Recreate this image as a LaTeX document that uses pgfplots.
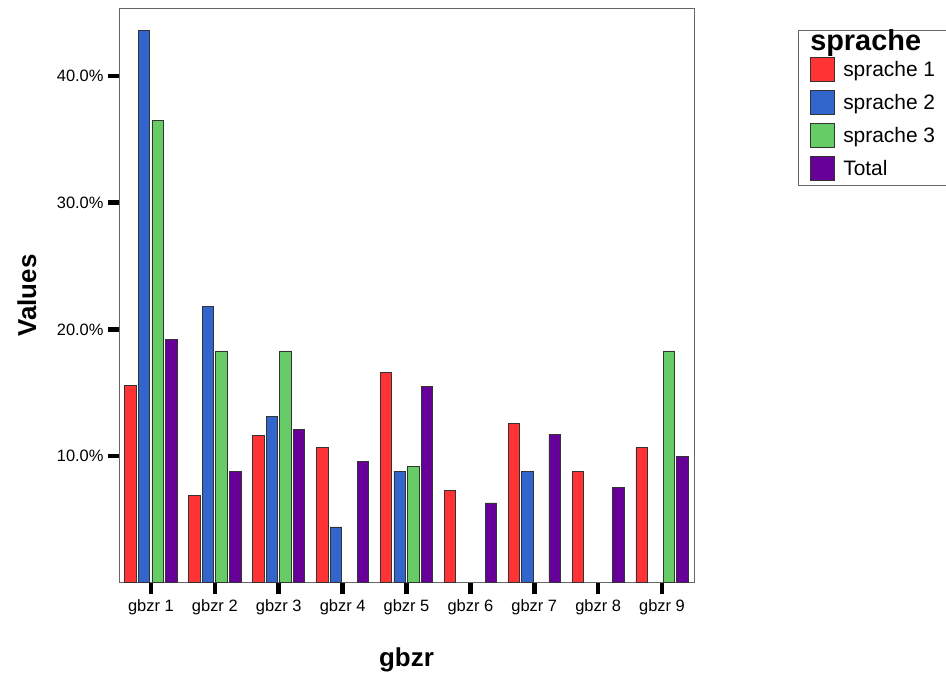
\documentclass[border=0pt]{standalone}
\usepackage{pgfplots}
\pgfplotsset{compat=1.18}
\usepackage{fontspec}
\setmainfont{Liberation Sans}
\definecolor{c1}{HTML}{FF3333}
\definecolor{c2}{HTML}{3366CC}
\definecolor{c3}{HTML}{66CC66}
\definecolor{c4}{HTML}{660099}
\pgfplotsset{
  sq/.style={legend image code/.code={\draw[##1, draw=black!80, line width=0.8bp] (0bp,-12bp) rectangle (24bp,12bp);}},
}
\begin{document}
\begin{tikzpicture}
\useasboundingbox (0,0) rectangle (946bp,676bp);
\begin{axis}[
  at={(119bp,93.3bp)}, anchor=south west,
  scale only axis, width=575bp, height=574.4bp,
  xmin=-0.5, xmax=8.5, ymin=0, ymax=45.35,
  axis line style={draw=black!60, line width=0.8bp},
  ybar, bar width=11.5bp,
  xtick={0,...,8},
  xticklabels={gbzr 1,gbzr 2,gbzr 3,gbzr 4,gbzr 5,gbzr 6,gbzr 7,gbzr 8,gbzr 9},
  ytick={10,20,30,40},
  yticklabels={10.0\%,20.0\%,30.0\%,40.0\%},
  tick align=outside, xtick pos=bottom, ytick pos=left,
  major tick length=11bp,
  major tick style={line width=4.5bp, black},
  ticklabel style={font=\fontsize{16.5}{18}\selectfont},
  xticklabel style={yshift=-2bp},
  yticklabel style={xshift=-1bp},
  xlabel={\bfseries gbzr},
  ylabel={\bfseries Values},
  label style={font=\fontsize{26}{28}\selectfont},
  xlabel style={at={(axis description cs:0.5,-0.1465)}, anchor=base},
  ylabel style={at={(axis description cs:-0.1443,0.5)}, anchor=base},
  legend style={at={(1.181,0.962)}, anchor=north west,
    draw=black!60, line width=0.8bp,
    font=\fontsize{21}{24}\selectfont,
    row sep=8.2bp, column sep=7bp,
    inner xsep=12bp, inner ysep=3.8bp,
    nodes={inner sep=1bp}},
  legend cell align=left,
]
\addlegendimage{empty legend}
\addlegendentry{\hspace*{-33bp}\raisebox{-3.8bp}[11.4bp][0pt]{\fontsize{29}{30}\selectfont\bfseries sprache}}
\addplot[fill=c1, draw=black!80, line width=0.8bp, bar shift=-20.4bp, sq] coordinates {
 (0,15.6) (1,6.9) (2,11.6) (3,10.7) (4,16.6) (5,7.3) (6,12.6) (7,8.8) (8,10.7)};
\addlegendentry{sprache 1}
\addplot[fill=c2, draw=black!80, line width=0.8bp, bar shift=-6.8bp, sq] coordinates {
 (0,43.6) (1,21.8) (2,13.1) (3,4.4) (4,8.8) (6,8.8)};
\addlegendentry{sprache 2}
\addplot[fill=c3, draw=black!80, line width=0.8bp, bar shift=6.8bp, sq] coordinates {
 (0,36.5) (1,18.3) (2,18.3) (4,9.2) (8,18.3)};
\addlegendentry{sprache 3}
\addplot[fill=c4, draw=black!80, line width=0.8bp, bar shift=20.4bp, sq] coordinates {
 (0,19.2) (1,8.8) (2,12.1) (3,9.6) (4,15.5) (5,6.3) (6,11.7) (7,7.5) (8,10.0)};
\addlegendentry{Total}
\end{axis}
\end{tikzpicture}
\end{document}
